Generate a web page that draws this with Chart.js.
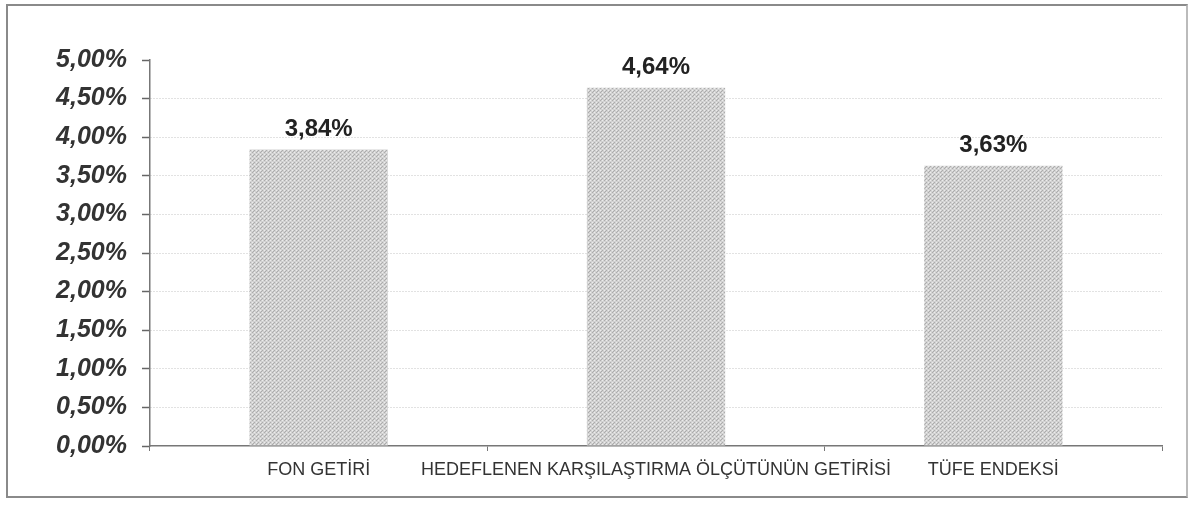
<!DOCTYPE html>
<html>
<head>
<meta charset="utf-8">
<script src="https://cdn.jsdelivr.net/npm/chart.js@4.4.1/dist/chart.umd.min.js"></script>
<style>
  html, body { margin: 0; padding: 0; background: #fff; }
  #wrap { position: relative; width: 1192px; height: 505px; }
  #frame {
    position: absolute; left: 6px; top: 4px; width: 1182px; height: 494px;
    border: 2px solid #8a8a8a; border-right-color: #bbb; box-sizing: border-box;
  }
  canvas { position: absolute; left: 0; top: 0; }
</style>
</head>
<body>
<div id="wrap">
  <div id="frame"></div>
  <canvas id="chart" width="1192" height="505"></canvas>
</div>
<script>
const categories = ["FON GETİRİ", "HEDEFLENEN KARŞILAŞTIRMA ÖLÇÜTÜNÜN GETİRİSİ", "TÜFE ENDEKSİ"];
const returns = [3.84, 4.64, 3.63];
const yMin = 0;
const yMax = 5;
const yStep = 0.5;

const pct = (v) => v.toFixed(2).replace(".", ",") + "%";

// dotted grey fill like the printed bars
function makePattern() {
  const c = document.createElement("canvas");
  c.width = 4;
  c.height = 4;
  const g = c.getContext("2d");
  g.fillStyle = "#d2d2d2";
  g.fillRect(0, 0, 4, 4);
  g.fillStyle = "#acacac";
  g.fillRect(0, 0, 1, 1);
  g.fillRect(2, 2, 1, 1);
  g.fillRect(1, 3, 1, 1);
  g.fillStyle = "#ececec";
  g.fillRect(2, 0, 1, 1);
  g.fillRect(0, 2, 1, 1);
  return g.createPattern(c, "repeat");
}

const valueLabels = {
  id: "valueLabels",
  afterDatasetsDraw(chart) {
    const { ctx } = chart;
    const meta = chart.getDatasetMeta(0);
    ctx.save();
    ctx.font = "bold 24px 'Liberation Sans', Arial, sans-serif";
    ctx.fillStyle = "#222";
    ctx.textAlign = "center";
    ctx.textBaseline = "alphabetic";
    meta.data.forEach((bar, i) => {
      ctx.fillText(pct(returns[i]), bar.x, bar.y - 14);
    });
    ctx.restore();
  },
};

new Chart(document.getElementById("chart"), {
  type: "bar",
  data: {
    labels: categories,
    datasets: [{
      data: returns,
      backgroundColor: makePattern(),
      borderWidth: 0,
      categoryPercentage: 1,
      barPercentage: 0.41,
    }],
  },
  options: {
    responsive: false,
    animation: false,
    layout: { padding: { left: 0, top: 60, right: 30, bottom: 0 } },
    plugins: {
      legend: { display: false },
      tooltip: { enabled: false },
    },
    scales: {
      x: {
        afterFit: (s) => { s.height = 59; },
        grid: {
          offset: true,
          drawOnChartArea: false,
          tickLength: 5,
          tickColor: "#777",
        },
        border: { color: "#777", width: 1.5 },
        ticks: {
          autoSkip: false,
          maxRotation: 0,
          minRotation: 0,
          padding: 8,
          color: "#333",
          font: { family: "'Liberation Sans', Arial, sans-serif", size: 18 },
        },
      },
      y: {
        min: yMin,
        max: yMax,
        afterFit: (s) => { s.width = 150; },
        grid: {
          color: (c) => (c.tick && (c.tick.value === yMax || c.tick.value === yMin) ? "rgba(0,0,0,0)" : "#c4c4c4"),
          tickColor: "#666",
          tickLength: 8,
          tickWidth: 1.5,
          tickBorderDash: [],
          lineWidth: 1,
        },
        border: { color: "#777", width: 1.5, dash: [1, 2] },
        ticks: {
          stepSize: yStep,
          padding: 15,
          color: "#333",
          font: { family: "'Liberation Sans', Arial, sans-serif", size: 25, weight: "bold", style: "italic" },
          callback: (v) => pct(v),
        },
      },
    },
  },
  plugins: [valueLabels],
});
</script>
</body>
</html>
